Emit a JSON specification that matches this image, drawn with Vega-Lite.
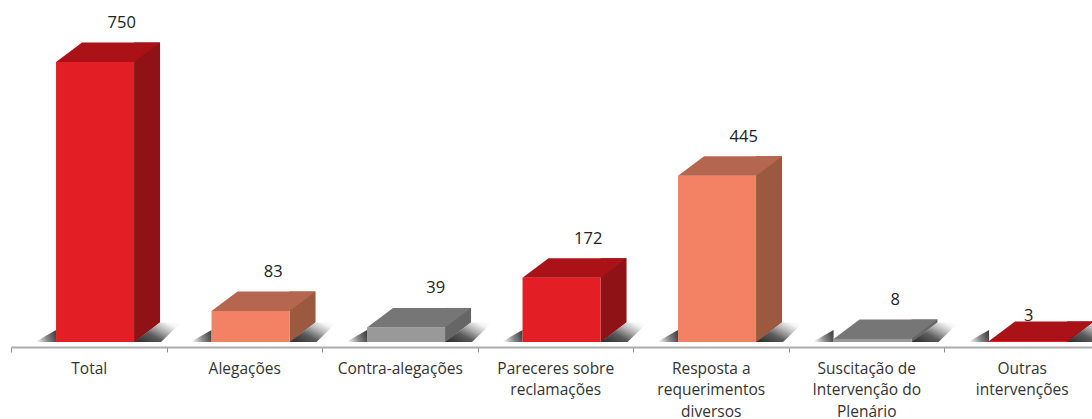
{
"$schema":"https://vega.github.io/schema/vega-lite/v6.json",
"autosize":{"type":"none"},
"padding":{"left":11,"top":0,"right":0,"bottom":77},
"width":1081,"height":342,
"background":"white",
"view":{"stroke":null},
"data":{"values":[
{"categoria":"Total","valor":750,"tom":"vermelho"},
{"categoria":"Alegações","valor":83,"tom":"laranja"},
{"categoria":"Contra-alegações","valor":39,"tom":"cinza"},
{"categoria":"Pareceres sobre reclamações","valor":172,"tom":"vermelho"},
{"categoria":"Resposta a requerimentos diversos","valor":445,"tom":"laranja"},
{"categoria":"Suscitação de Intervenção do Plenário","valor":8,"tom":"cinza"},
{"categoria":"Outras intervenções","valor":3,"tom":"vermelho"}
]},
"encoding":{
"x":{"field":"categoria","type":"nominal","sort":null,"title":null,
"scale":{"range":[0,1088.5],"paddingInner":0,"paddingOuter":0},
"axis":{"offset":5,"labelAngle":0,"tickBand":"extent","domainColor":"#ababab","domainWidth":2,"tickColor":"#8c8c8c","tickSize":5,"tickWidth":1,"labelFont":"Open Sans","labelFontSize":15.5,"labelColor":"#333333","labelPadding":16,"labelLineHeight":21.5,"labelBaseline":"middle","labelOverlap":false,"labelBound":false,"labelFlush":false,"labelLimit":0,
"labelExpr":"datum.value=='Pareceres sobre reclamações'?['Pareceres sobre','reclamações']:datum.value=='Resposta a requerimentos diversos'?['Resposta a','requerimentos','diversos']:datum.value=='Suscitação de Intervenção do Plenário'?['Suscitação de','Intervenção do','Plenário']:datum.value=='Outras intervenções'?['Outras','intervenções']:datum.value"}},
"y":{"field":"valor","type":"quantitative","title":null,"scale":{"domain":[0,916],"nice":false},"axis":null}
},
"layer":[
{"mark":{"type":"rule","strokeWidth":26,"xOffset":58.3,"yOffset":-19.5,"strokeCap":"butt"},
 "encoding":{"y2":{"datum":0},"color":{"field":"tom","type":"nominal","legend":null,"scale":{"domain":["vermelho","laranja","cinza"],"range":["#8e1216","#9b5940","#666666"]}}}},
{"mark":{"type":"point","filled":true,"opacity":1,"size":4,"xOffset":6.3,"fill":"white","stroke":null,"shape":"M39,0.5L65.5,0.5L65.5,-20L39,0.5Z"},
 "encoding":{"y":{"datum":0}}},
{"mark":{"type":"point","filled":true,"opacity":1,"size":4,"xOffset":6.3,"stroke":null,"shape":"M39,0L65,-19.5L86,-19.5L66,0Z","fill":{"gradient":"linear","x1":0,"y1":0.9,"x2":1,"y2":0.1,"stops":[{"offset":0,"color":"#303030"},{"offset":0.35,"color":"#5c5c5c"},{"offset":0.6,"color":"#b0b0b0"},{"offset":0.85,"color":"#f4f4f4"},{"offset":1,"color":"#ffffff"}]}},
 "encoding":{"y":{"datum":0}}},
{"mark":{"type":"point","filled":true,"opacity":1,"size":4,"xOffset":6.3,"stroke":null,"shape":"M-39,0L-39,-12L-60,0Z","fill":{"gradient":"linear","x1":1,"y1":0.5,"x2":0,"y2":0.7,"stops":[{"offset":0,"color":"#444444"},{"offset":0.45,"color":"#888888"},{"offset":1,"color":"#ffffff"}]}},
 "encoding":{"y":{"datum":0}}},
{"mark":{"type":"bar","width":78,"xOffset":6.3},
 "encoding":{"y2":{"datum":0},"color":{"field":"tom","type":"nominal","legend":null,"scale":{"domain":["vermelho","laranja","cinza"],"range":["#e31e24","#f28263","#999999"]}}}},
{"mark":{"type":"point","filled":true,"opacity":1,"size":4,"xOffset":6.3,"shape":"M-39,0L39,0L65,-19.5L-13,-19.5Z"},
 "encoding":{"color":{"field":"tom","type":"nominal","legend":null,"scale":{"domain":["vermelho","laranja","cinza"],"range":["#ab1217","#b5664f","#767676"]}}}},
{"transform":[{"filter":"datum.valor==750||datum.valor==172||datum.valor==445"}],
 "mark":{"type":"text","font":"Open Sans","fontSize":16.5,"color":"#222222","dx":33,"dy":-39},
 "encoding":{"text":{"field":"valor","type":"quantitative"}}},
{"transform":[{"filter":"datum.valor==83||datum.valor==8"}],
 "mark":{"type":"text","font":"Open Sans","fontSize":16.5,"color":"#222222","dx":29,"dy":-39},
 "encoding":{"text":{"field":"valor","type":"quantitative"}}},
{"transform":[{"filter":"datum.valor==39"}],
 "mark":{"type":"text","font":"Open Sans","fontSize":16.5,"color":"#222222","dx":36,"dy":-39},
 "encoding":{"text":{"field":"valor","type":"quantitative"}}},
{"transform":[{"filter":"datum.valor==3"}],
 "mark":{"type":"text","font":"Open Sans","fontSize":16.5,"color":"#222222","dx":7,"dy":-25},
 "encoding":{"text":{"field":"valor","type":"quantitative"}}}
],
"resolve":{"scale":{"color":"independent"}}
}
